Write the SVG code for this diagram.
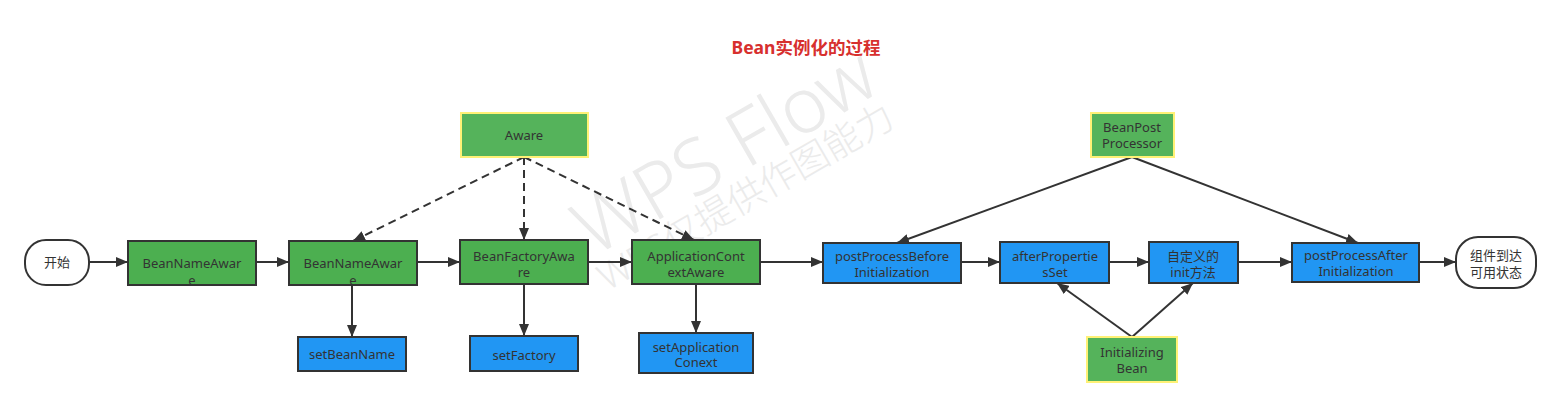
<svg xmlns="http://www.w3.org/2000/svg" width="1560" height="406" viewBox="0 0 1560 406">
<defs>
<marker id="ah" viewBox="0 0 12 10" refX="12" refY="5" markerWidth="12" markerHeight="10" markerUnits="userSpaceOnUse" orient="auto">
<path d="M0,0 L12,5 L0,10 z" fill="#333"/>
</marker>
</defs>
<style>
text{font-family:"Noto Sans","Noto Sans CJK SC",sans-serif;font-size:13px;fill:#333;text-anchor:middle}
.g{fill:#4caf50;stroke:#333;stroke-width:2}
.b{fill:#2196f3;stroke:#333;stroke-width:2}
.y{fill:#55b35b;stroke:#fff176;stroke-width:2}
.t{fill:#fff;stroke:#333;stroke-width:2}
.c line{stroke:#333;stroke-width:2;marker-end:url(#ah)}
.c .d{stroke-dasharray:8 5}
</style>
<rect width="1560" height="406" fill="#fff"/>
<g id="watermark">
<text transform="translate(738,174) rotate(-30)" style="font-size:77px;fill:#ebebeb;font-weight:300">WPS Flow</text>
<text transform="translate(752,208) rotate(-30)" style="font-size:37px;fill:#ebebeb;font-weight:300">WPS仅提供作图能力</text>
</g>
<text x="806" y="54" style="font-size:17.5px;font-weight:bold;fill:#d7302e">Bean实例化的过程</text>
<g class="c" id="connectors">
<line x1="89" y1="262" x2="128" y2="262"/>
<line x1="256" y1="262" x2="289" y2="262"/>
<line x1="417" y1="262" x2="460" y2="262"/>
<line x1="588" y1="262" x2="632" y2="262"/>
<line x1="760" y1="262" x2="823" y2="262"/>
<line x1="961" y1="262" x2="1000" y2="262"/>
<line x1="1109" y1="262" x2="1149" y2="262"/>
<line x1="1238" y1="262" x2="1292" y2="262"/>
<line x1="1419" y1="262" x2="1456" y2="262"/>
<line x1="352" y1="285" x2="352" y2="337"/>
<line x1="524" y1="284" x2="524" y2="336"/>
<line x1="696" y1="284" x2="696" y2="333"/>
<line class="d" x1="524" y1="157" x2="353" y2="241"/>
<line class="d" x1="524" y1="157" x2="524" y2="240"/>
<line class="d" x1="524" y1="157" x2="694" y2="240"/>
<line x1="1132" y1="157" x2="897" y2="243"/>
<line x1="1132" y1="157" x2="1358" y2="243"/>
<line x1="1132" y1="337" x2="1057" y2="283"/>
<line x1="1132" y1="337" x2="1193" y2="283"/>
</g>
<g id="start"><rect class="t" x="25" y="240" width="64" height="45" rx="21"/><text x="57" y="267">开始</text></g>
<g id="bna1"><rect class="g" x="128" y="241" width="128" height="44"/><text x="192" y="267.5">BeanNameAwar</text><text x="192" y="284.5">e</text></g>
<g id="bna2"><rect class="g" x="289" y="241" width="128" height="44"/><text x="353" y="267.5">BeanNameAwar</text><text x="353" y="284.5">e</text></g>
<g id="setBeanName"><rect class="b" x="298" y="337" width="108" height="34"/><text x="352" y="358.5">setBeanName</text></g>
<g id="aware"><rect class="y" x="461" y="113" width="127" height="44"/><text x="524" y="139.5">Aware</text></g>
<g id="bfa"><rect class="g" x="460" y="240" width="128" height="44"/><text x="524" y="260.5">BeanFactoryAwa</text><text x="524" y="276.5">re</text></g>
<g id="setFactory"><rect class="b" x="470" y="336" width="108" height="35"/><text x="524" y="359.5">setFactory</text></g>
<g id="aca"><rect class="g" x="632" y="240" width="128" height="44"/><text x="696" y="260.5">ApplicationCont</text><text x="696" y="276.5">extAware</text></g>
<g id="setAppCtx"><rect class="b" x="639" y="333" width="114" height="40"/><text x="696" y="351.5">setApplication</text><text x="696" y="366.5">Conext</text></g>
<g id="ppb"><rect class="b" x="823" y="243" width="138" height="40"/><text x="892" y="260.5">postProcessBefore</text><text x="892" y="276.5">Initialization</text></g>
<g id="aps"><rect class="b" x="1000" y="242" width="109" height="41"/><text x="1055" y="260.5">afterPropertie</text><text x="1055" y="276.5">sSet</text></g>
<g id="init"><rect class="b" x="1149" y="242" width="89" height="41"/><text x="1193" y="260.5">自定义的</text><text x="1193" y="276.5">init方法</text></g>
<g id="bpp"><rect class="y" x="1091" y="113" width="83" height="44"/><text x="1132" y="131.5">BeanPost</text><text x="1132" y="147.5">Processor</text></g>
<g id="ib"><rect class="y" x="1087" y="337" width="90" height="45"/><text x="1132" y="356.5">Initializing</text><text x="1132" y="372.5">Bean</text></g>
<g id="ppa"><rect class="b" x="1292" y="243" width="127" height="39"/><text x="1356" y="259.5">postProcessAfter</text><text x="1356" y="275.5">Initialization</text></g>
<g id="end"><rect class="t" x="1456" y="237" width="80" height="51" rx="22"/><text x="1496" y="259.5">组件到达</text><text x="1496" y="276.5">可用状态</text></g>
</svg>
